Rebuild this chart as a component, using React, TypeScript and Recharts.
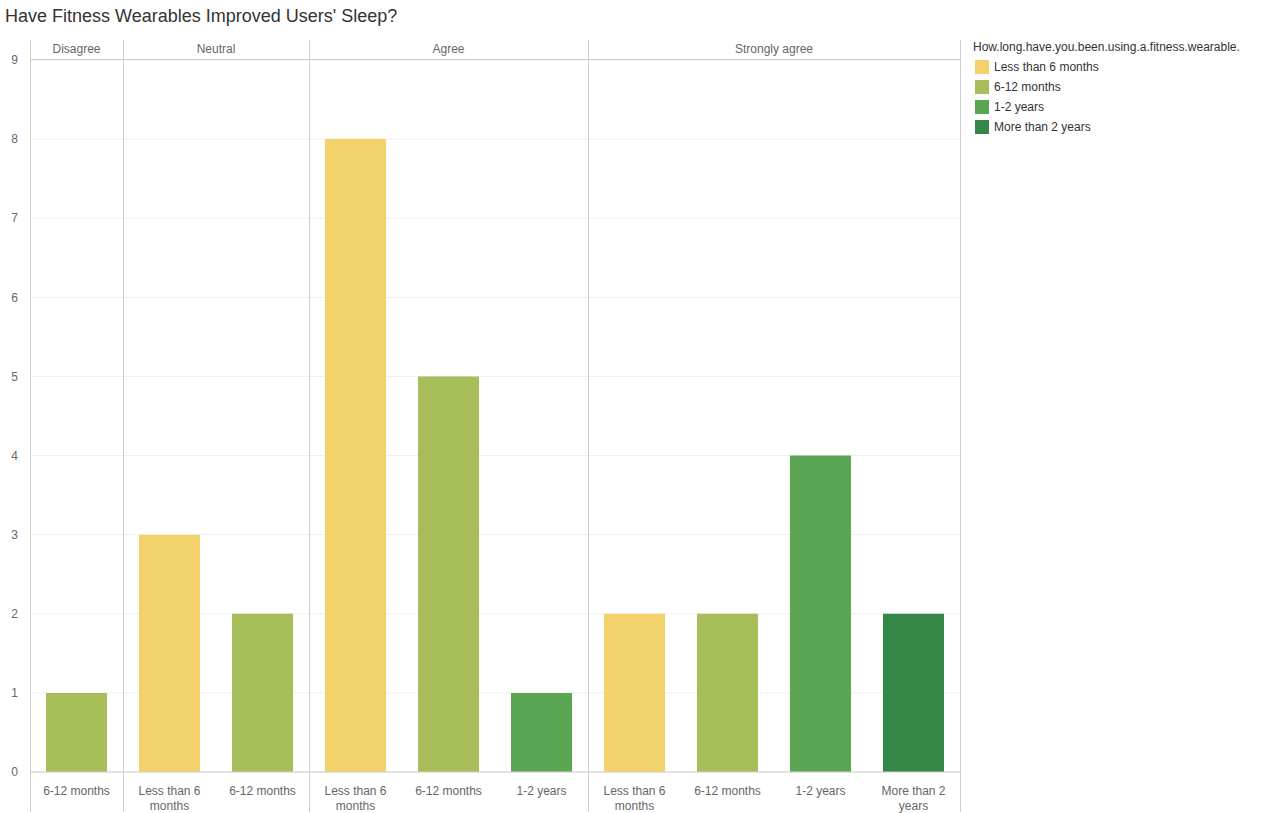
import React from "react";
import { BarChart, Bar, XAxis, YAxis, CartesianGrid, Cell } from "recharts";

const panels = ["Disagree", "Neutral", "Agree", "Strongly agree"];
const panelSizes = [1, 2, 3, 4];
const durations = ["6-12 months", "Less than 6 months", "6-12 months", "Less than 6 months", "6-12 months", "1-2 years", "Less than 6 months", "6-12 months", "1-2 years", "More than 2 years"];
const counts = [1, 3, 2, 8, 5, 1, 2, 2, 4, 2];
const legendItems = ["Less than 6 months", "6-12 months", "1-2 years", "More than 2 years"];
const COLORS = ["#F3D16B", "#A6BD5A", "#5BA653", "#358748"];
const yTicks = [0, 1, 2, 3, 4, 5, 6, 7, 8, 9];

const data = durations.map((d, i) => ({ id: i, duration: d, count: counts[i] }));

const FONT = "'Liberation Sans', Arial, sans-serif";
const L = 30, R = 960, TOP = 60, BOTTOM = 772;
const slot = (R - L) / durations.length;

const wrap = (s: string) => {
  const lines: string[] = [];
  let cur = "";
  s.split(" ").forEach((w) => {
    const next = cur ? cur + " " + w : w;
    if (next.length > 12 && cur) { lines.push(cur); cur = w; } else cur = next;
  });
  lines.push(cur);
  return lines;
};

const Tick = ({ x, y, payload }: any) => {
  const lines = wrap(durations[payload.value]);
  return (
    <text x={x} y={y + 4} textAnchor="middle" fill="#666" fontSize={12} fontFamily={FONT}>
      {lines.map((l, i) => (
        <tspan key={i} x={x} dy={i === 0 ? 11 : 15}>{l}</tspan>
      ))}
    </text>
  );
};

const App = () => {
  let acc = 0;
  const bounds = panelSizes.map((n) => { const s = acc; acc += n; return [s, acc]; });
  const line = "#cfcfcf";
  return (
    <div style={{ position: "absolute", left: 0, top: 0, width: 1266, height: 813, fontFamily: FONT, background: "#fff" }}>
      <div style={{ position: "absolute", left: 5, top: 6, fontSize: 18, color: "#333" }}>Have Fitness Wearables Improved Users' Sleep?</div>
      <BarChart width={1266} height={813} data={data} margin={{ top: TOP, right: 1266 - R, bottom: 0, left: 0 }} barSize={61}>
        <CartesianGrid vertical={false} stroke="#efefef" />
        <XAxis dataKey="id" height={813 - BOTTOM} tick={<Tick />} tickLine={false} axisLine={{ stroke: line }} interval={0} />
        <YAxis width={L} domain={[0, 9]} ticks={yTicks} tickLine={false} axisLine={false} tickMargin={6}
          tick={{ fill: "#666", fontSize: 12, fontFamily: FONT }} />
        <Bar dataKey="count" isAnimationActive={false}>
          {data.map((d, i) => (
            <Cell key={i} fill={COLORS[legendItems.indexOf(d.duration)]} />
          ))}
        </Bar>
      </BarChart>
      {/* frame: header row and panel separators */}
      <div style={{ position: "absolute", left: L, top: TOP - 1, width: R - L, height: 1, background: line }} />
      {[0, ...bounds.map((b) => b[1])].map((b, i) => (
        <div key={i} style={{ position: "absolute", left: L + b * slot, top: 40, width: 1, height: 772, background: line }} />
      ))}
      {panels.map((p, i) => (
        <div key={p} style={{ position: "absolute", left: L + bounds[i][0] * slot, width: panelSizes[i] * slot, top: 42, textAlign: "center", fontSize: 12, color: "#666" }}>{p}</div>
      ))}
      <div style={{ position: "absolute", left: 973, top: 40, fontSize: 12, color: "#333" }}>
        <div style={{ marginBottom: 3 }}>How.long.have.you.been.using.a.fitness.wearable.</div>
        {legendItems.map((l, i) => (
          <div key={l} style={{ display: "flex", alignItems: "center", height: 20 }}>
            <span style={{ width: 14, height: 14, background: COLORS[i], marginLeft: 2, marginRight: 5, display: "inline-block" }} />
            {l}
          </div>
        ))}
      </div>
    </div>
  );
};

export default App;
